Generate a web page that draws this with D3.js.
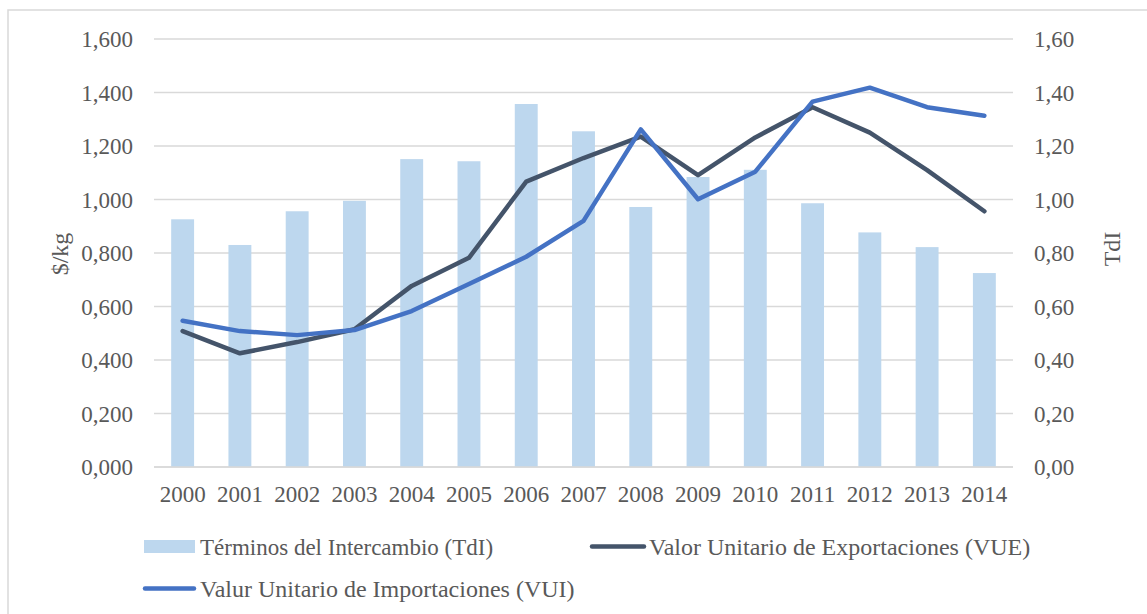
<!DOCTYPE html>
<html>
<head>
<meta charset="utf-8">
<script src="https://cdn.jsdelivr.net/npm/d3@7"></script>
<style>
  body { margin: 0; background: #fff; }
  text { font-family: "Liberation Serif", "Times New Roman", serif; fill: #595959; }
</style>
</head>
<body>
<script>
// years on the x axis
var years = ["2000","2001","2002","2003","2004","2005","2006","2007","2008","2009","2010","2011","2012","2013","2014"];
// Términos del Intercambio (right axis)
var tdi = [0.926, 0.830, 0.956, 0.995, 1.151, 1.143, 1.357, 1.255, 0.972, 1.084, 1.111, 0.986, 0.877, 0.822, 0.725];
// Valor Unitario de Exportaciones ($/kg)
var vue = [0.508, 0.425, 0.467, 0.515, 0.677, 0.782, 1.067, 1.155, 1.235, 1.091, 1.232, 1.345, 1.250, 1.110, 0.956];
// Valur Unitario de Importaciones ($/kg)
var vui = [0.547, 0.508, 0.493, 0.512, 0.583, 0.684, 0.786, 0.920, 1.262, 1.001, 1.104, 1.366, 1.418, 1.345, 1.313];
var leftTicks = [0, 0.2, 0.4, 0.6, 0.8, 1.0, 1.2, 1.4, 1.6];
var rightTicks = [0, 0.2, 0.4, 0.6, 0.8, 1.0, 1.2, 1.4, 1.6];

var W = 1147, H = 614;
var svg = d3.select("body").append("svg").attr("width", W).attr("height", H);

// outer chart frame
svg.append("rect")
  .attr("x", 8).attr("y", 10).attr("width", W + 10).attr("height", H + 10)
  .attr("fill", "none").attr("stroke", "#d9d9d9").attr("stroke-width", 1.5);

var pLeft = 154, pRight = 1013, pTop = 39, pBottom = 467;

var x = d3.scaleBand().domain(years).range([pLeft, pRight]).paddingInner(0.6).paddingOuter(0.3);
var xc = d3.scaleBand().domain(years).range([pLeft, pRight]);
var yL = d3.scaleLinear().domain([0, 1.6]).range([pBottom, pTop]);
var yR = d3.scaleLinear().domain([0, 1.6]).range([pBottom, pTop]);

// ticks read like 1,600 and 0,80
var fmtL = function (d) { return d.toFixed(3).replace(".", ","); };
var fmtR = function (d) { return d.toFixed(2).replace(".", ","); };

// gridlines
svg.append("g").selectAll("line").data(leftTicks).join("line")
  .attr("x1", pLeft).attr("x2", pRight)
  .attr("y1", function (d) { return yL(d); }).attr("y2", function (d) { return yL(d); })
  .attr("stroke", "#d9d9d9").attr("stroke-width", 1.5);

// left axis labels
svg.append("g").selectAll("text").data(leftTicks).join("text")
  .attr("x", 133).attr("y", function (d) { return yL(d); })
  .attr("dy", "0.35em").attr("text-anchor", "end")
  .style("font-size", "23px")
  .text(fmtL);

// right axis labels
svg.append("g").selectAll("text").data(rightTicks).join("text")
  .attr("x", 1034).attr("y", function (d) { return yR(d); })
  .attr("dy", "0.35em").attr("text-anchor", "start")
  .style("font-size", "23px")
  .text(fmtR);

// bars
svg.append("g").selectAll("rect").data(tdi).join("rect")
  .attr("x", function (d, i) { return x(years[i]); })
  .attr("width", x.bandwidth())
  .attr("y", function (d) { return yR(d); })
  .attr("height", function (d) { return pBottom - yR(d); })
  .attr("fill", "#bdd7ee");

// x baseline
svg.append("line").attr("x1", pLeft).attr("x2", pRight).attr("y1", pBottom).attr("y2", pBottom)
  .attr("stroke", "#d9d9d9").attr("stroke-width", 1.5);

// x labels
svg.append("g").selectAll("text").data(years).join("text")
  .attr("x", function (d) { return xc(d) + xc.bandwidth() / 2; })
  .attr("y", 502).attr("text-anchor", "middle")
  .style("font-size", "23px")
  .text(function (d) { return d; });

var line = d3.line()
  .x(function (d, i) { return xc(years[i]) + xc.bandwidth() / 2; })
  .y(function (d) { return yL(d); });

svg.append("path").datum(vue).attr("d", line)
  .attr("fill", "none").attr("stroke", "#44546a").attr("stroke-width", 4.5)
  .attr("stroke-linejoin", "round").attr("stroke-linecap", "round");
svg.append("path").datum(vui).attr("d", line)
  .attr("fill", "none").attr("stroke", "#4472c4").attr("stroke-width", 4.5)
  .attr("stroke-linejoin", "round").attr("stroke-linecap", "round");

// axis titles
svg.append("text").attr("transform", "translate(68,254) rotate(-90)")
  .attr("text-anchor", "middle").style("font-size", "24px").text("$/kg");
svg.append("text").attr("transform", "translate(1120,249) rotate(-90)")
  .attr("text-anchor", "middle").style("font-size", "24px").text("TdI");

// legend
var lg = svg.append("g").style("font-size", "24px");
lg.append("rect").attr("x", 144).attr("y", 540).attr("width", 51).attr("height", 13).attr("fill", "#bdd7ee");
lg.append("text").attr("x", 200).attr("y", 555).style("font-size", "23px").text("Términos del Intercambio (TdI)");
lg.append("line").attr("x1", 592).attr("x2", 644).attr("y1", 546.5).attr("y2", 546.5)
  .attr("stroke", "#44546a").attr("stroke-width", 4.5).attr("stroke-linecap", "round");
lg.append("text").attr("x", 649).attr("y", 555).text("Valor Unitario de Exportaciones (VUE)");
lg.append("line").attr("x1", 145).attr("x2", 194).attr("y1", 588.5).attr("y2", 588.5)
  .attr("stroke", "#4472c4").attr("stroke-width", 4.5).attr("stroke-linecap", "round");
lg.append("text").attr("x", 200).attr("y", 597).text("Valur Unitario de Importaciones (VUI)");
</script>
</body>
</html>
